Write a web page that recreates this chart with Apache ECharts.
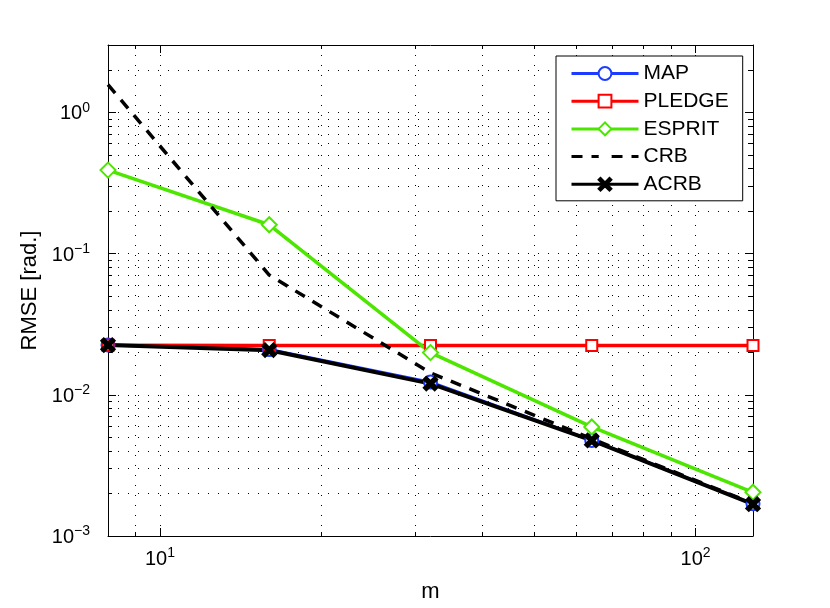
<!DOCTYPE html>
<html>
<head>
<meta charset="utf-8">
<script src="https://cdn.jsdelivr.net/npm/echarts@6/dist/echarts.min.js"></script>
<style>
  html, body { margin: 0; padding: 0; background: #fff; }
  #chart { width: 830px; height: 608px; }
</style>
</head>
<body>
<div id="chart"></div>
<script>
// 数据：m 取值与各方法的 RMSE
var mValues = [8, 16, 32, 64, 128];
var mapRmse = [0.0225, 0.0209, 0.0123, 0.00475, 0.00169];
var pledgeRmse = [0.0224, 0.0223, 0.0223, 0.0223, 0.0223];
var espritRmse = [0.39, 0.16, 0.0199, 0.00592, 0.00204];
var crbRmse = [1.57, 0.0705, 0.0143, 0.00488, 0.0017];
var acrbRmse = [0.0225, 0.0207, 0.012, 0.00475, 0.00168];

// 刻度
var xRange = [8, 128];
var yRange = [0.001, 3];
var xMajorTicks = [10, 100];
var xMinorTicks = [9, 20, 30, 40, 50, 60, 70, 80, 90];
var yMajorTicks = [0.001, 0.01, 0.1, 1];
var yMinorTicks = [
  0.002, 0.003, 0.004, 0.005, 0.006, 0.007, 0.008, 0.009,
  0.02, 0.03, 0.04, 0.05, 0.06, 0.07, 0.08, 0.09,
  0.2, 0.3, 0.4, 0.5, 0.6, 0.7, 0.8, 0.9,
  2, 3
];

(function () {
  'use strict';

  var font = '"Liberation Sans", Arial, Helvetica, sans-serif';
  var lg = Math.log10;

  function toLog(arr) { return arr.map(function (v) { return lg(v); }); }

  function pairs(ys) {
    return mValues.map(function (m, i) { return [lg(m), lg(ys[i])]; });
  }

  var labelRich = {
    b: { fontSize: 20, fontFamily: font, color: '#000', lineHeight: 23, verticalAlign: 'bottom' },
    s: { fontSize: 14, fontFamily: font, color: '#000', lineHeight: 15, verticalAlign: 'top' }
  };

  function powLabel(v) {
    var e = Math.round(v);
    return '{b|10}{s|' + (e < 0 ? '\u2212' + (-e) : e) + '}';
  }

  var gridLine = { show: true, lineStyle: { color: '#000', width: 1, type: [1, 9] } };

  // 一条轴：pos 位置, ticks 刻度, len 刻度长度, label 是否显示标签, split 是否画网格
  function makeAxis(dim, pos, ticks, len, label, split) {
    var range = dim === 'x' ? xRange : yRange;
    var majors = dim === 'x' ? xMajorTicks : yMajorTicks;
    return {
      type: 'value',
      position: pos,
      min: lg(range[0]),
      max: lg(range[1]),
      axisLine: { show: len < 6, onZero: false, lineStyle: { color: '#000', width: 1 } },
      axisTick: {
        show: true,
        inside: true,
        length: len,
        customValues: toLog(ticks),
        lineStyle: { color: '#000', width: 1 }
      },
      axisLabel: label ? {
        show: true,
        customValues: toLog(majors),
        margin: dim === 'x' ? 10 : 18,
        formatter: powLabel,
        rich: labelRich
      } : { show: false },
      splitLine: split ? gridLine : { show: false }
    };
  }

  var xAll = xMinorTicks.concat(xMajorTicks);
  var yAll = yMinorTicks.concat(yMajorTicks);

  var xAxes = [
    makeAxis('x', 'bottom', xAll, 4, true, true),
    makeAxis('x', 'top', xAll, 4, false, false),
    makeAxis('x', 'bottom', xMajorTicks, 8, false, false),
    makeAxis('x', 'top', xMajorTicks, 8, false, false)
  ];
  xAxes[0].name = 'm';
  xAxes[0].nameLocation = 'middle';
  xAxes[0].nameGap = 45;
  xAxes[0].nameTextStyle = { color: '#000', fontSize: 22, fontFamily: font };

  var yAxes = [
    makeAxis('y', 'left', yAll, 4, true, true),
    makeAxis('y', 'right', yAll, 4, false, false),
    makeAxis('y', 'left', yMajorTicks, 8, false, false),
    makeAxis('y', 'right', yMajorTicks, 8, false, false)
  ];
  yAxes[0].name = 'RMSE [rad.]';
  yAxes[0].nameLocation = 'middle';
  yAxes[0].nameGap = 57;
  yAxes[0].nameTextStyle = { color: '#000', fontSize: 22, fontFamily: font };

  var crossPath = 'path://M0,1.5L1.5,0L5,3.5L8.5,0L10,1.5L6.5,5L10,8.5L8.5,10L5,6.5L1.5,10L0,8.5L3.5,5Z';

  function lineSeries(name, ys, color, symbol, size, width, dash) {
    var noMark = symbol === 'none';
    return {
      name: name,
      type: 'line',
      xAxisIndex: 0,
      yAxisIndex: 0,
      data: pairs(ys),
      symbol: noMark ? 'emptyCircle' : symbol,
      symbolSize: size,
      showSymbol: !noMark,
      lineStyle: { color: color, width: width, type: dash || 'solid' },
      itemStyle: noMark
        ? { color: 'rgba(0,0,0,0)', borderColor: 'rgba(0,0,0,0)', borderWidth: 0 }
        : { color: color, borderColor: color, borderWidth: 3 },
      z: 3
    };
  }

  var chart = echarts.init(document.getElementById('chart'), null, { renderer: 'canvas' });

  chart.setOption({
    animation: false,
    backgroundColor: '#fff',
    grid: { left: 108, right: 77, top: 45, bottom: 69, containLabel: false },
    xAxis: xAxes,
    yAxis: yAxes,
    legend: {
      orient: 'vertical',
      left: 556,
      top: 56,
      padding: [7, 14, 6, 14],
      itemWidth: 67,
      itemHeight: 16,
      itemGap: 6.7,
      backgroundColor: '#fff',
      borderColor: '#000',
      borderWidth: 1,
      borderRadius: 0,
      lineStyle: { width: 3 },
      textStyle: { color: '#000', fontSize: 21, fontFamily: font, lineHeight: 20 },
      data: ['MAP', 'PLEDGE', 'ESPRIT', 'CRB', 'ACRB']
    },
    series: [
      lineSeries('MAP', mapRmse, '#1e3cff', 'emptyCircle', 13, 3),
      lineSeries('PLEDGE', pledgeRmse, '#ff0000', 'emptyRect', 11, 3.5),
      lineSeries('ESPRIT', espritRmse, '#4de600', 'emptyDiamond', 15, 3.5),
      lineSeries('CRB', crbRmse, '#000', 'none', 0, 3.5, [11, 9]),
      lineSeries('ACRB', acrbRmse, '#000', crossPath, 12, 4)
    ]
  });

  window.addEventListener('resize', function () { chart.resize(); });
})();
</script>
</body>
</html>
